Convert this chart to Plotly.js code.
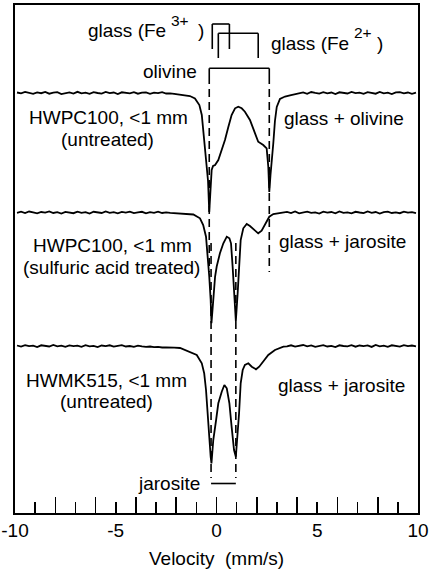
<!DOCTYPE html>
<html>
<head>
<meta charset="utf-8">
<script src="https://cdn.plot.ly/plotly-3.0.1.min.js"></script>
<style>html,body{margin:0;padding:0;background:#fff;}#chart{width:433px;height:570px;}</style>
</head>
<body>
<div id="chart"></div>
<script>
// ---- Data (velocity in mm/s, relative absorption in arbitrary units) ----
const vel1 = [-9.9,-9.7,-9.5,-9.3,-9.1,-8.9,-8.7,-8.5,-8.3,-8.1,-7.9,-7.7,-7.5,-7.3,-7.1,-6.9,-6.7,-6.5,-6.3,-6.1,-5.9,-5.7,-5.5,-5.3,-5.1,-4.9,-4.7,-4.5,-4.3,-4.1,-3.9,-3.7,-3.5,-3.3,-3.1,-2.9,-2.7,-2.5,-2.3,-2.1,
  -1.81,-1.32,-1.07,-0.85,-0.73,-0.66,-0.57,-0.49,-0.42,-0.36,-0.29,-0.24,-0.17,-0.07,0.09,0.26,0.42,0.59,0.75,0.92,1.08,1.25,1.41,1.66,1.91,2.07,2.32,2.49,2.57,2.62,2.68,2.74,2.82,2.90,2.99,3.15,3.40,
  3.7,3.9,4.1,4.3,4.5,4.7,4.9,5.1,5.3,5.5,5.7,5.9,6.1,6.3,6.5,6.7,6.9,7.1,7.3,7.5,7.7,7.9,8.1,8.3,8.5,8.7,8.9,9.1,9.3,9.5,9.7,9.9];
const sig1 = [0.5,-0.4,1.1,0.2,-0.9,0.6,-0.2,1.0,-0.7,0.3,0.8,-1.1,0.1,0.6,-0.5,1.2,-0.3,0.4,-0.8,0.9,0.0,-0.6,1.0,-0.2,0.5,-1.0,0.7,0.2,-0.4,0.9,-0.7,0.3,0.6,-0.9,0.4,-0.1,0.8,-0.5,-0.3,-0.9,
  -1.5,-3,-5.5,-12,-22,-38,-58,-70,-88,-119,-100,-77,-73,-72,-67,-57,-47,-33.7,-22,-15.3,-13.7,-15.3,-18.7,-27,-40.3,-48.7,-52,-55.3,-73.7,-99,-82,-70,-50,-28,-14,-6,-3.5,
  -2.2,-1.3,-0.4,0.6,-0.8,1.0,0.1,-0.6,0.9,-0.3,0.5,-1.0,0.7,0.2,-0.5,1.1,-0.2,0.4,-0.9,0.8,0.0,-0.7,1.0,-0.4,0.3,-1.1,0.6,0.9,-0.3,0.5,-0.8,0.4];

const vel2 = [-9.9,-9.7,-9.5,-9.3,-9.1,-8.9,-8.7,-8.5,-8.3,-8.1,-7.9,-7.7,-7.5,-7.3,-7.1,-6.9,-6.7,-6.5,-6.3,-6.1,-5.9,-5.7,-5.5,-5.3,-5.1,-4.9,-4.7,-4.5,-4.3,-4.1,-3.9,-3.7,-3.5,-3.3,-3.1,-2.9,-2.7,-2.5,-2.3,-2.1,
  -1.8,-1.48,-1.15,-0.82,-0.66,-0.52,-0.44,-0.36,-0.29,-0.25,-0.16,-0.07,0.01,0.17,0.34,0.51,0.64,0.72,0.80,0.88,0.96,1.05,1.13,1.20,1.33,1.50,1.66,1.91,2.07,2.24,2.41,2.62,2.82,3.1,
  3.3,3.5,3.7,3.9,4.1,4.3,4.5,4.7,4.9,5.1,5.3,5.5,5.7,5.9,6.1,6.3,6.5,6.7,6.9,7.1,7.3,7.5,7.7,7.9,8.1,8.3,8.5,8.7,8.9,9.1,9.3,9.5,9.7,9.9];
const sig2 = [-0.3,0.8,-0.6,1.0,0.2,-0.9,0.5,-0.1,1.1,-0.5,0.3,-1.0,0.6,0.1,-0.7,0.9,-0.3,0.4,-1.1,0.7,0.2,-0.5,1.0,-0.4,0.3,-0.8,0.6,-0.2,0.9,-0.6,0.1,0.7,-0.9,0.4,-0.3,0.8,-0.5,0.2,-0.4,-0.7,
  -0.6,-1.0,-2,-5.8,-12.5,-24.2,-40.5,-64,-87.5,-110.8,-87.5,-64,-54,-40.8,-30.8,-24.2,-25.8,-30.8,-54,-87.5,-108.5,-80.8,-54,-27.5,-15.8,-11.5,-13.5,-17.5,-20.8,-18.2,-12.5,-4.2,-1.5,-0.5,
  -0.3,0.6,-0.5,1.0,-0.8,0.3,0.8,-0.4,0.1,-1.0,0.9,-0.2,0.5,-0.8,1.1,-0.3,0.2,-0.9,0.7,0.0,-0.6,1.0,-0.4,0.5,-1.0,0.3,0.8,-0.5,0.1,-0.7,0.9,-0.2,0.4,-0.6];

const vel3 = [-9.9,-9.7,-9.5,-9.3,-9.1,-8.9,-8.7,-8.5,-8.3,-8.1,-7.9,-7.7,-7.5,-7.3,-7.1,-6.9,-6.7,-6.5,-6.3,-6.1,-5.9,-5.7,-5.5,-5.3,-5.1,-4.9,-4.7,-4.5,-4.3,-4.1,-3.9,-3.7,-3.5,-3.3,-3.1,-2.9,-2.7,-2.5,-2.3,-2.1,
  -1.81,-1.32,-0.98,-0.73,-0.61,-0.52,-0.46,-0.37,-0.29,-0.25,-0.16,-0.02,0.09,0.26,0.39,0.51,0.64,0.75,0.87,0.96,1.03,1.12,1.20,1.30,1.41,1.58,1.75,1.96,2.12,2.32,2.57,2.90,3.32,
  3.5,3.7,3.9,4.1,4.3,4.5,4.7,4.9,5.1,5.3,5.5,5.7,5.9,6.1,6.3,6.5,6.7,6.9,7.1,7.3,7.5,7.7,7.9,8.1,8.3,8.5,8.7,8.9,9.1,9.3,9.5,9.7,9.9];
const sig3 = [0.5,-0.6,0.9,-0.2,0.4,-1.0,0.7,0.1,-0.5,1.0,-0.3,0.4,-0.8,0.6,-0.1,0.3,-0.9,0.8,-0.4,0.1,-1.0,0.5,-0.2,0.7,-0.6,0.2,0.9,-0.5,0.0,-0.8,0.4,-0.3,-0.9,-0.5,-1.2,-0.8,-1.5,-1.3,-1.8,-1.6,
  -2,-5.7,-9,-17.3,-27.3,-44,-64,-84,-110.7,-117.5,-94,-74,-57.3,-45.7,-39,-42.3,-57.3,-80.7,-104,-110.7,-94,-67.3,-37.3,-24,-19,-17.3,-20.7,-23.3,-20.7,-15.7,-9,-4,-0.7,
  -0.4,0.7,-0.6,0.4,1.0,-0.3,0.6,-0.9,0.3,0.9,-0.5,0.2,-1.0,0.7,0.0,-0.4,0.8,-0.7,0.5,-0.1,0.6,-0.9,1.0,-0.3,0.4,-0.8,0.7,0.1,-0.6,0.9,-0.2,0.5,-0.4];

// Line positions of the components (mm/s)
const olivine  = [-0.36, 2.62];
const glassFe3 = [-0.21, 0.64];
const glassFe2 = [0.09, 2.07];
const jarosite = [-0.27, 0.96];

// Labels
const sampleLabels = [["HWPC100, <1 mm", "(untreated)"], ["HWPC100, <1 mm", "(sulfuric acid treated)"], ["HWMK515, <1 mm", "(untreated)"]];
const phaseLabels = ["glass + olivine", "glass + jarosite", "glass + jarosite"];
const tickVals = [-10, -5, 0, 5, 10];
const tickText = ["-10", "-5", "0", "5", "10"];

// ---- Layout constants ----
const offsets = [420, 300.5, 167];
const FONT = "Liberation Sans, Arial, Helvetica, sans-serif";
const FS = 19;

const series = [[vel1, sig1], [vel2, sig2], [vel3, sig3]];
const traces = series.map((s, i) => ({
  x: s[0], y: s[1].map(v => v + offsets[i]),
  type: "scatter", mode: "lines", xaxis: i === 2 ? "x2" : "x", yaxis: "y",
  line: {color: "#000", width: 1.8}, hoverinfo: "skip"
}));

const shapes = [];
function seg(x0, y0, x1, y1, dash) {
  shapes.push({type: "line", xref: "x", yref: "y", x0: x0, y0: y0, x1: x1, y1: y1,
    line: {color: "#000", width: 1.6, dash: dash || "solid"}});
}
function bracketDown(pos, top, bottom) {
  seg(pos[0], top, pos[1], top);
  seg(pos[0], top, pos[0], bottom);
  seg(pos[1], top, pos[1], bottom);
}
bracketDown(glassFe3, 489, 464);
bracketDown(glassFe2, 479.7, 455);
bracketDown(olivine, 444.7, 437);
seg(olivine[0], 437, olivine[0], 241, "8px,5px");
seg(olivine[1], 437, olivine[1], 241, "8px,5px");
seg(jarosite[0], 29.5, jarosite[1], 29.5);
seg(jarosite[0], 270, jarosite[0], 35, "8px,5px");
seg(jarosite[1], 270, jarosite[1], 35, "8px,5px");

const ann = [];
function txt(text, x, y, xanchor, size) {
  ann.push({text: text, x: x, y: y, xref: "x", yref: "y", showarrow: false,
    xanchor: xanchor || "center", yanchor: "middle", font: {family: FONT, size: size || FS, color: "#000"}});
}
const leftPos = [[-5.38, 395.5, -5.41, 374], [-5.16, 268, -5.20, 246], [-5.45, 133, -5.45, 111.3]];
const rightPos = [[6.33, 395], [6.27, 271.3], [6.18, 128]];
sampleLabels.forEach((l, i) => {
  txt(l[0], leftPos[i][0], leftPos[i][1]);
  txt(l[1], leftPos[i][2], leftPos[i][3]);
  txt(phaseLabels[i], rightPos[i][0], rightPos[i][1]);
});
txt("olivine", -0.87, 441.3, "right");
txt("jarosite", -0.73, 29.7, "right");
// glass (Fe3+)
txt("glass (Fe", -2.41, 482.3, "right");
txt("3+", -2.36, 492.5, "left", 15.5);
txt(")", -1.02, 482.3, "left");
// glass (Fe2+)
txt("glass (Fe", 2.62, 469.7, "left");
txt("2+", 6.72, 481, "left", 15.5);
txt(")", 7.85, 469.7, "left");

const layout = {
  width: 433, height: 570,
  margin: {l: 15, r: 15, t: 5, b: 57, pad: 0},
  paper_bgcolor: "#fff", plot_bgcolor: "#fff",
  showlegend: false,
  font: {family: FONT, size: FS, color: "#000"},
  xaxis: {
    range: [-10, 10], autorange: false, fixedrange: true,
    showline: true, mirror: true, linecolor: "#000", linewidth: 1.6,
    showgrid: false, zeroline: false,
    tickmode: "array", tickvals: tickVals, ticktext: tickText, ticks: "",
    tickfont: {family: FONT, size: FS, color: "#000"},
    title: {text: "Velocity\u00a0\u00a0(mm/s)", font: {family: FONT, size: FS, color: "#000"}, standoff: 11}
  },
  xaxis2: {
    overlaying: "x", anchor: "y", side: "bottom",
    range: [-10, 10], autorange: false, fixedrange: true,
    showline: false, showgrid: false, zeroline: false, showticklabels: false,
    tickmode: "linear", tick0: 0, dtick: 2, ticks: "inside", ticklen: 16, tickwidth: 1.6, tickcolor: "#000",
    minor: {tickmode: "linear", tick0: 0, dtick: 1, ticks: "inside", ticklen: 11, tickwidth: 1.6, tickcolor: "#000", showgrid: false}
  },
  yaxis: {
    range: [0, 508], autorange: false, fixedrange: true,
    showline: true, mirror: true, linecolor: "#000", linewidth: 1.6,
    showgrid: false, zeroline: false, showticklabels: false, ticks: ""
  },
  shapes: shapes,
  annotations: ann
};

Plotly.newPlot("chart", traces, layout, {staticPlot: true, displayModeBar: false});
</script>
</body>
</html>
